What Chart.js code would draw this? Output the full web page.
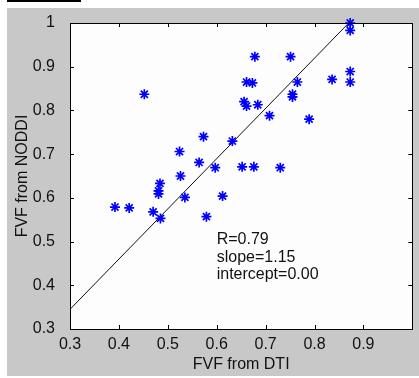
<!DOCTYPE html>
<html>
<head>
<meta charset="utf-8">
<script src="https://cdn.jsdelivr.net/npm/chart.js@4/dist/chart.umd.min.js"></script>
<style>
  body { margin: 0; background: #fff; }
  canvas { display: block; }
</style>
</head>
<body>
<canvas id="graph" width="419" height="378"></canvas>
<script>
// FVF values
var dtiFVF = [0.452, 0.678, 0.751, 0.873, 0.873, 0.873, 0.873, 0.836, 0.765, 0.661,
              0.673, 0.755, 0.755, 0.656, 0.661, 0.684, 0.708, 0.789, 0.573, 0.632,
              0.524, 0.564, 0.597, 0.652, 0.676, 0.730, 0.526, 0.484, 0.481, 0.481,
              0.535, 0.612, 0.392, 0.421, 0.470, 0.485, 0.579]
var noddiFVF = [0.837, 0.923, 0.923, 1.000, 0.983, 0.889, 0.865, 0.871, 0.865, 0.865,
                0.863, 0.837, 0.831, 0.820, 0.810, 0.813, 0.788, 0.780, 0.740, 0.730,
                0.706, 0.681, 0.669, 0.671, 0.671, 0.669, 0.650, 0.633, 0.616, 0.609,
                0.601, 0.604, 0.579, 0.577, 0.568, 0.553, 0.557]

// regression line end points
var fitX = [0.3, 0.87]
var fitY = [0.345, 1.0]

var xTickValues = [0.3, 0.4, 0.5, 0.6, 0.7, 0.8, 0.9]
var yTickValues = [0.3, 0.4, 0.5, 0.6, 0.7, 0.8, 0.9, 1]
var statsText = ['R=0.79', 'slope=1.15', 'intercept=0.00']

var FONT = '"Liberation Sans", Arial, Helvetica, sans-serif'

var matlabLook = {
    id: 'matlabLook',
    beforeDraw: function (chart) {
        var c = chart.ctx, a = chart.chartArea
        c.save()
        c.fillStyle = '#ffffff'
        c.fillRect(0, 0, chart.width, chart.height)
        c.fillStyle = '#c8c8c8'
        c.fillRect(7, 8, chart.width - 7, 368)
        c.fillStyle = '#000'
        c.fillRect(7, 0, 74, 2)
        c.fillStyle = '#fcfdfc'
        c.fillRect(a.left, a.top, a.right - a.left, a.bottom - a.top)
        c.restore()
    },
    afterDraw: function (chart) {
        var c = chart.ctx, a = chart.chartArea
        var xs = chart.scales.x, ys = chart.scales.y
        c.save()
        c.strokeStyle = '#000'
        c.lineWidth = 1
        c.beginPath()
        xs.ticks.forEach(function (t) {
            var px = Math.round(xs.getPixelForValue(t.value)) + 0.5
            if (px <= a.left + 1) return
            c.moveTo(px, a.bottom); c.lineTo(px, a.bottom - 4)
            c.moveTo(px, a.top); c.lineTo(px, a.top + 4)
        })
        ys.ticks.forEach(function (t) {
            var py = Math.round(ys.getPixelForValue(t.value)) + 0.5
            if (py >= a.bottom - 1 || py <= a.top + 1) return
            c.moveTo(a.left, py); c.lineTo(a.left + 4, py)
            c.moveTo(a.right, py); c.lineTo(a.right - 4, py)
        })
        c.stroke()
        c.strokeRect(Math.round(a.left) + 0.5, Math.round(a.top) + 0.5,
                     Math.round(a.right - a.left), Math.round(a.bottom - a.top))

        // stats text
        c.fillStyle = '#111'
        c.font = '16px ' + FONT
        c.textBaseline = 'middle'
        c.textAlign = 'left'
        var tx = xs.getPixelForValue(0.6)
        var ty = ys.getPixelForValue(0.504)
        statsText.forEach(function (s, i) {
            c.fillText(s, tx, ty + i * 17.5)
        })
        c.restore()
    }
}

var points = dtiFVF.map(function (v, i) { return { x: v, y: noddiFVF[i] } })
var fitLine = fitX.map(function (v, i) { return { x: v, y: fitY[i] } })

var ctx = document.getElementById('graph').getContext('2d')

var myChart = new Chart(ctx, {
    type: 'scatter',
    data: {
        datasets: [{
            label: 'FVF',
            data: points,
            pointStyle: 'star',
            pointRadius: 5,
            pointBorderWidth: 1.7,
            borderColor: '#0000ff',
            backgroundColor: '#0000ff',
            clip: false
        }, {
            type: 'line',
            label: 'fit',
            data: fitLine,
            borderColor: '#111',
            borderWidth: 1,
            pointRadius: 0,
            fill: false
        }]
    },
    options: {
        responsive: false,
        animation: false,
        devicePixelRatio: 1,
        layout: {
            padding: { left: 0, right: 3, top: 23, bottom: 0 }
        },
        plugins: {
            legend: { display: false },
            tooltip: { enabled: false }
        },
        scales: {
            x: {
                type: 'linear',
                min: 0.3,
                max: 1.0,
                grid: { display: false },
                border: { display: false },
                afterFit: function (s) { s.height = 49 },
                afterBuildTicks: function (s) {
                    s.ticks = xTickValues.map(function (v) { return { value: v } })
                },
                ticks: {
                    padding: -2,
                    color: '#111',
                    font: { family: FONT, size: 16 },
                    maxRotation: 0,
                    callback: function (v) { return v.toFixed(1) }
                },
                title: {
                    display: true,
                    text: 'FVF from DTI',
                    color: '#111',
                    font: { family: FONT, size: 16 },
                    padding: { top: 0, bottom: 4 }
                }
            },
            y: {
                type: 'linear',
                min: 0.3,
                max: 1.0,
                grid: { display: false },
                border: { display: false },
                afterFit: function (s) { s.width = 70 },
                afterBuildTicks: function (s) {
                    s.ticks = yTickValues.map(function (v) { return { value: v } })
                },
                ticks: {
                    padding: 7,
                    color: '#111',
                    font: { family: FONT, size: 16 },
                    callback: function (v) { return v === 1 ? '1' : v.toFixed(1) }
                },
                title: {
                    display: true,
                    text: 'FVF from NODDI',
                    color: '#111',
                    font: { family: FONT, size: 16 },
                    padding: { top: 13, bottom: 0 }
                }
            }
        }
    },
    plugins: [matlabLook]
})
</script>
</body>
</html>
